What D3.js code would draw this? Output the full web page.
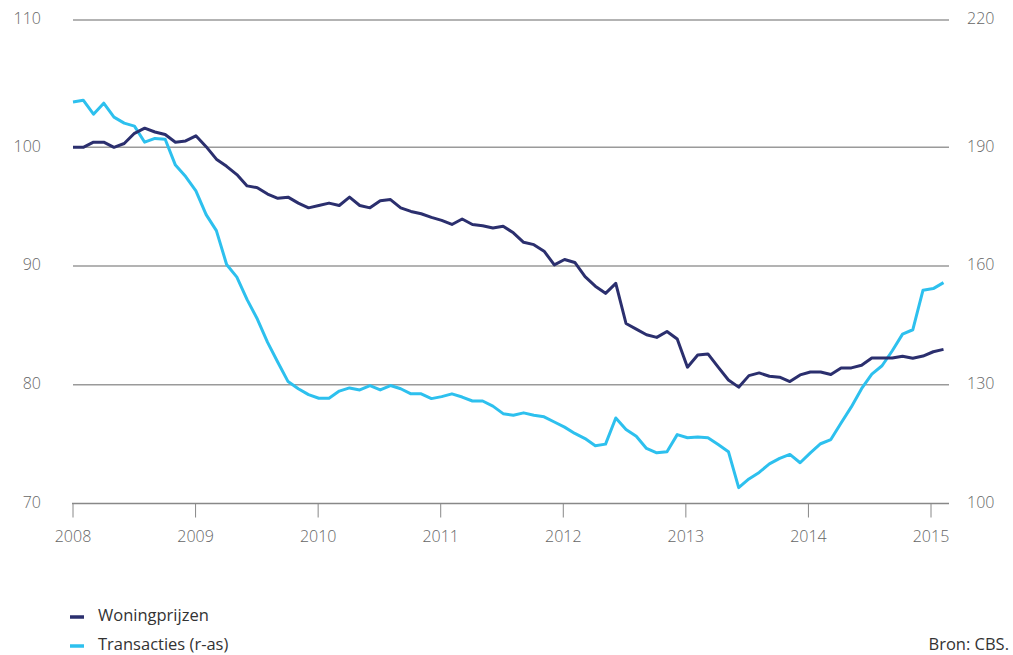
<!DOCTYPE html>
<html>
<head>
<meta charset="utf-8">
<script src="https://cdn.jsdelivr.net/npm/d3@7"></script>
<style>
  body { margin: 0; background: #fff; }
  svg text { font-family: 'Open Sans', 'Lato', sans-serif; }
</style>
</head>
<body>
<svg id="chart" width="1013" height="655"></svg>
<script>
// monthly, Jan 2008 .. Feb 2015
const startYear = 2008
const years = [2008, 2009, 2010, 2011, 2012, 2013, 2014, 2015]
const leftTicks = [70, 80, 90, 100, 110]
const rightTicks = [100, 130, 160, 190, 220]

// Woningprijzen (left axis)
const prices = [
  100.0, 100.0, 100.4, 100.4, 100.0, 100.3, 101.1, 101.5, 101.2, 101.0, 100.4, 100.5,
  100.9, 100.05, 99.0, 98.4, 97.7, 96.75, 96.6, 96.06, 95.7, 95.8, 95.3, 94.9,
  95.1, 95.3, 95.1, 95.8, 95.1, 94.9, 95.5, 95.6, 94.9, 94.6, 94.4, 94.1,
  93.85, 93.5, 93.96, 93.5, 93.4, 93.2, 93.35, 92.8, 92.0, 91.8, 91.25, 90.1,
  90.55, 90.3, 89.1, 88.3, 87.7, 88.54, 85.16, 84.69, 84.21, 83.99, 84.49, 83.85,
  81.48, 82.5, 82.6, 81.48, 80.4, 79.8, 80.77, 81.0, 80.72, 80.64, 80.27, 80.83,
  81.08, 81.08, 80.86, 81.42, 81.42, 81.64, 82.25, 82.25, 82.25, 82.4, 82.23, 82.42,
  82.78, 82.98
]

// Transacties (right axis)
const transactions = [
  200.7, 201.1, 197.8, 200.4, 197.1, 195.7, 195.0, 191.2, 192.1, 191.9, 185.5, 182.6,
  179.0, 173.0, 168.95, 160.4, 157.2, 151.5, 146.6, 140.7, 135.7, 130.8, 129.0, 127.5,
  126.6, 126.6, 128.4, 129.2, 128.7, 129.8, 128.7, 129.8, 129.0, 127.7, 127.7, 126.5,
  127.0, 127.7, 126.9, 125.9, 125.9, 124.6, 122.7, 122.3, 122.9, 122.3, 121.9, 120.6,
  119.3, 117.7, 116.4, 114.6, 115.0, 121.6, 118.7, 117.0, 113.9, 112.8, 113.1, 117.4,
  116.6, 116.8, 116.6, 114.9, 113.1, 104.0, 106.2, 107.85, 110.0, 111.4, 112.4, 110.3,
  112.8, 115.1, 116.15, 120.35, 124.4, 129.0, 132.7, 134.8, 138.6, 142.8, 143.9, 153.9,
  154.3, 155.8
]

const seriesNames = ['Woningprijzen', 'Transacties (r-as)']
const colors = ['#2b2f6e', '#2dc0ee']

const svg = d3.select('#chart')

const x = d3.scaleLinear().domain([0, 85]).range([73, 943.5])
const xAxisScale = d3.scaleLinear().domain([startYear, 2015]).range([72.5, 930.5])
const yLeft = d3.scaleLinear().domain([70, 100, 110]).range([503.5, 147.3, 20])
const yRight = d3.scaleLinear().domain([100, 190, 220]).range([503.5, 147.3, 20])
const plotRight = 949

// gridlines
svg.append('g')
  .selectAll('line')
  .data(leftTicks.slice(1))
  .enter()
  .append('line')
  .attr('x1', 73)
  .attr('x2', plotRight)
  .attr('y1', d => yLeft(d))
  .attr('y2', d => yLeft(d))
  .attr('stroke', '#9a9a9a')
  .attr('stroke-width', 1.5)

// left labels
svg.append('g')
  .selectAll('text')
  .data(leftTicks)
  .enter()
  .append('text')
  .attr('x', 41)
  .attr('y', d => yLeft(d))
  .attr('text-anchor', 'end')
  .attr('dominant-baseline', 'middle')
  .attr('font-size', 16)
  .attr('font-weight', 300)
  .attr('fill', '#666')
  .text(d => d)

// right labels
svg.append('g')
  .selectAll('text')
  .data(rightTicks)
  .enter()
  .append('text')
  .attr('x', 967)
  .attr('y', d => yRight(d))
  .attr('text-anchor', 'start')
  .attr('dominant-baseline', 'middle')
  .attr('font-size', 16)
  .attr('font-weight', 300)
  .attr('fill', '#666')
  .text(d => d)

// x axis
const xAxis = d3.axisBottom(xAxisScale)
  .tickValues(years)
  .tickFormat(d3.format('d'))
  .tickSize(14)
  .tickSizeOuter(0)
  .tickPadding(13)

const gx = svg.append('g')
  .attr('transform', 'translate(0,' + yLeft(70) + ')')
  .call(xAxis)
gx.select('.domain').remove()
gx.append('line')
  .attr('x1', 72)
  .attr('x2', plotRight)
  .attr('stroke', '#888')
  .attr('stroke-width', 1.5)
gx.selectAll('.tick line').attr('stroke', '#888').attr('stroke-width', 1)
gx.selectAll('.tick text')
  .attr('font-family', "'Open Sans', sans-serif")
  .attr('font-size', 16)
  .attr('font-weight', 300)
  .attr('fill', '#666')

// lines
const lineLeft = d3.line().x((d, i) => x(i)).y(d => yLeft(d))
const lineRight = d3.line().x((d, i) => x(i)).y(d => yRight(d))

svg.append('path')
  .datum(transactions)
  .attr('d', lineRight)
  .attr('fill', 'none')
  .attr('stroke', colors[1])
  .attr('stroke-width', 3)
  .attr('stroke-linejoin', 'round')

svg.append('path')
  .datum(prices)
  .attr('d', lineLeft)
  .attr('fill', 'none')
  .attr('stroke', colors[0])
  .attr('stroke-width', 3)
  .attr('stroke-linejoin', 'round')

// legend
const legend = svg.append('g')
legend.selectAll('line')
  .data(seriesNames)
  .enter()
  .append('line')
  .attr('x1', 70)
  .attr('x2', 84)
  .attr('y1', (d, i) => 617 + i * 29)
  .attr('y2', (d, i) => 617 + i * 29)
  .attr('stroke', (d, i) => colors[i])
  .attr('stroke-width', 3.5)

legend.selectAll('text')
  .data(seriesNames)
  .enter()
  .append('text')
  .attr('x', 98)
  .attr('y', (d, i) => 617 + i * 29)
  .attr('dominant-baseline', 'middle')
  .attr('font-size', 16.5)
  .attr('fill', '#333')
  .text(d => d)

svg.append('text')
  .attr('x', 1009)
  .attr('y', 646)
  .attr('text-anchor', 'end')
  .attr('dominant-baseline', 'middle')
  .attr('font-size', 16.5)
  .attr('fill', '#333')
  .text('Bron: CBS.')
</script>
</body>
</html>
